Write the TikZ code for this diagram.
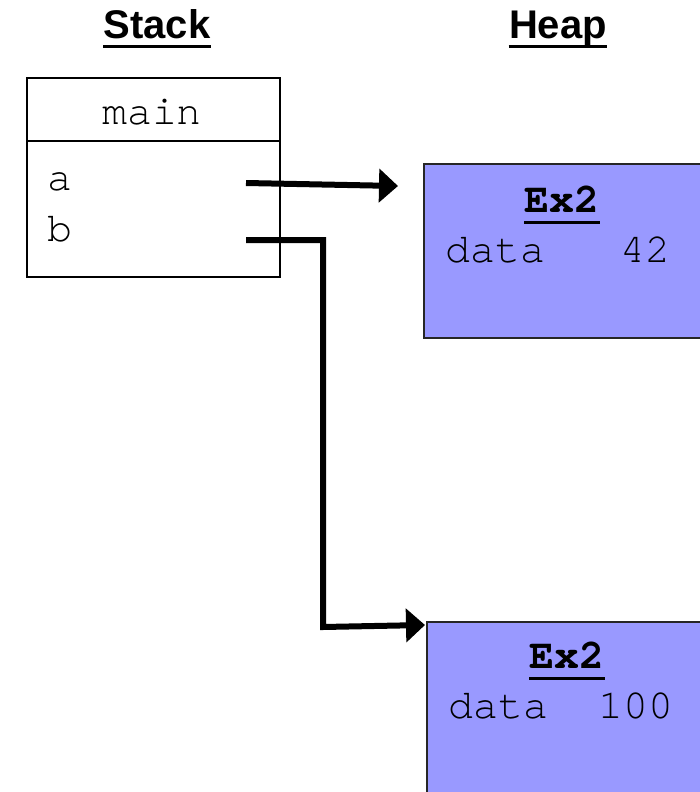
\documentclass[tikz,border=0pt]{standalone}
\usepackage{fontspec}
\newfontfamily\titlefont{Liberation Sans}
\newfontfamily\codefont{texgyrecursor}[Extension=.otf, UprightFont=*-regular, BoldFont=*-bold]
\usetikzlibrary{arrows.meta}
\definecolor{heapblue}{HTML}{9999FF}
\tikzset{
    title/.style={font=\titlefont\bfseries\fontsize{20}{24}\selectfont, inner sep=0pt},
    code/.style={font=\codefont\fontsize{20.8}{25}\selectfont, inner sep=0pt},
    classname/.style={font=\codefont\bfseries\fontsize{20.8}{25}\selectfont, inner sep=0pt},
    heapbox/.style={draw=black!85, fill=heapblue, line width=1pt, anchor=north west},
    pointer/.style={line width=3pt, -{Triangle[length=9.5pt,width=16.5pt]}}
}
\begin{document}
\begin{tikzpicture}[x=0.5pt, y=-0.5pt]
    \useasboundingbox (0, 0) rectangle (700, 792);
    % column titles
    \node [title, anchor=base] (stacklbl) at (157, 39) {Stack};
    \node [title, anchor=base] (heaplbl) at (558, 39) {Heap};
    \draw [line width=1.5pt] ([yshift=-4pt]stacklbl.base west) -- ([yshift=-4pt]stacklbl.base east);
    \draw [line width=1.5pt] ([yshift=-4pt]heaplbl.base west) -- ([yshift=-4pt]heaplbl.base east);
    % stack frame
    \node [draw, line width=1pt, anchor=north west, minimum width=126.5pt,
           minimum height=99.5pt, inner sep=0pt] (frame) at (26, 77) {};
    \draw [line width=1pt] (frame.west |- 0, 141) -- (frame.east |- 0, 141);
    \node [code, anchor=base] (mainlbl) at (152, 125) {main};
    \node [code, anchor=base west] (avar) at (47, 191) {a};
    \node [code, anchor=base west] (bvar) at (47, 241) {b};
    % heap objects
    \node [heapbox, minimum width=150pt, minimum height=87pt] (obj1) at (423, 163) {};
    \node [heapbox, minimum width=150pt, minimum height=100pt] (obj2) at (426, 621) {};
    \node [classname, anchor=base] (cls1) at (562, 212) {Ex2};
    \node [classname, anchor=base] (cls2) at (567, 668) {Ex2};
    \draw [line width=1.5pt] ([yshift=-5pt]cls1.base west) -- ([yshift=-5pt]cls1.base east);
    \draw [line width=1.5pt] ([yshift=-5pt]cls2.base west) -- ([yshift=-5pt]cls2.base east);
    \node [code, anchor=base west] (field1) at (445, 262) {data\ \ \ 42};
    \node [code, anchor=base west] (field2) at (448, 718) {data\ \ 100};
    % references
    \coordinate (aptr) at (246, 183);
    \coordinate (bptr) at (246, 240);
    \coordinate (aend) at (398, 186);
    \coordinate (bend) at (425, 625);
    \draw [pointer] (aptr) -- (aend);
    \draw [pointer] (bptr) -- (323, 240) -- (323, 627) -- (bend);
\end{tikzpicture}
\end{document}
